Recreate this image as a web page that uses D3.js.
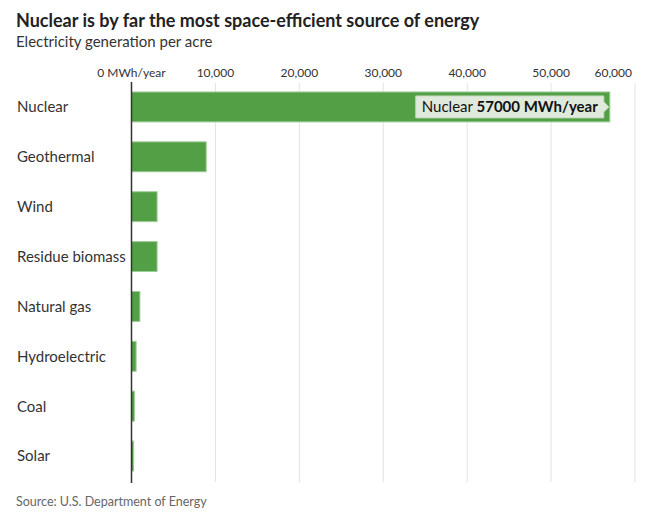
<!DOCTYPE html>
<html lang="en">
  <head>
    <meta charset="utf-8" />
    <title>Nuclear is by far the most space-efficient source of energy</title>
    <script src="https://d3js.org/d3.v7.js"></script>
    <style>
      body { margin: 0; background: #fff; }
      text { font-family: Lato, "Noto Sans", sans-serif; }
    </style>
  </head>
  <body>
    <div id="graph"></div>
    <script>

    // data
    var sources = ["Nuclear", "Geothermal", "Wind", "Residue biomass", "Natural gas", "Hydroelectric", "Coal", "Solar"];
    var mwhPerAcre = [57000, 8900, 3050, 3050, 1000, 550, 350, 250];
    var tickValues = [0, 10000, 20000, 30000, 40000, 50000, 60000];
    var tickLabels = ["0 MWh/year", "10,000", "20,000", "30,000", "40,000", "50,000", "60,000"];

    var data = sources.map((s, i) => ({source: s, value: mwhPerAcre[i]}));

    var w = 651, h = 517;
    var svg = d3.select("#graph")
      .append("svg")
        .attr("width", w)
        .attr("height", h);

    var x = d3.scaleLinear()
      .domain([0, 60000])
      .range([131.5, 635]);

    var y = d3.scaleBand()
      .domain(sources)
      .range([82, 481])
      .paddingInner(0.4)
      .paddingOuter(0.2);

    // title block
    svg.append("text")
      .attr("x", 16).attr("y", 27)
      .attr("font-size", 18)
      .attr("font-weight", "bold")
      .attr("fill", "#222")
      .text("Nuclear is by far the most space-efficient source of energy");

    svg.append("text")
      .attr("x", 16).attr("y", 47)
      .attr("font-size", 15)
      .attr("fill", "#333")
      .text("Electricity generation per acre");

    // gridlines
    svg.append("g")
      .selectAll("line")
      .data(tickValues.slice(1))
      .join("line")
        .attr("x1", d => x(d)).attr("x2", d => x(d))
        .attr("y1", 83).attr("y2", 482)
        .attr("stroke", "#e3e3e3")
        .attr("stroke-width", 1);

    // top axis labels
    svg.append("g")
      .selectAll("text")
      .data(tickValues)
      .join("text")
        .attr("x", (d, i) => i === tickValues.length - 1 ? x(d) - 3 : x(d))
        .attr("y", 77)
        .attr("text-anchor", (d, i) => i === tickValues.length - 1 ? "end" : "middle")
        .attr("font-size", 12)
        .attr("fill", "#333")
        .text((d, i) => tickLabels[i]);

    // bars
    svg.append("g")
      .selectAll("rect")
      .data(data)
      .join("rect")
        .attr("x", x(0))
        .attr("y", d => y(d.source))
        .attr("width", d => x(d.value) - x(0))
        .attr("height", y.bandwidth())
        .attr("fill", "#529f46")
        .attr("stroke", "#9fcd97")
        .attr("stroke-width", 1);

    // category labels
    svg.append("g")
      .selectAll("text")
      .data(data)
      .join("text")
        .attr("x", 17)
        .attr("y", d => y(d.source) + y.bandwidth() / 2)
        .attr("dy", "0.36em")
        .attr("font-size", 15)
        .attr("fill", "#333")
        .text(d => d.source);

    // zero axis
    svg.append("line")
      .attr("x1", x(0)).attr("x2", x(0))
      .attr("y1", 82).attr("y2", 483)
      .attr("stroke", "#333")
      .attr("stroke-width", 1.5);

    // tooltip on the nuclear bar
    var biggest = data[0];
    var tipRight = x(biggest.value) - 6;
    var tipTop = y(biggest.source) + 4;
    var tipH = y.bandwidth() - 8;
    var tip = svg.append("g");

    var tipText = tip.append("text")
      .attr("y", tipTop + tipH / 2)
      .attr("dy", "0.36em")
      .attr("font-size", 15)
      .attr("fill", "#111");
    tipText.append("tspan").text(biggest.source + " ");
    tipText.append("tspan").attr("font-weight", "bold").text(biggest.value + " MWh/year");

    var tw = tipText.node().getComputedTextLength();
    var tipLeft = tipRight - tw - 12;
    tipText.attr("x", tipLeft + 6);

    tip.insert("path", "text")
      .attr("d", `M${tipLeft},${tipTop} H${tipRight} V${tipTop + tipH / 2 - 5} L${tipRight + 5},${tipTop + tipH / 2} L${tipRight},${tipTop + tipH / 2 + 5} V${tipTop + tipH} H${tipLeft} Z`)
      .attr("fill", "#dfe9dc")
      .attr("stroke", "#c5d9c0")
      .attr("stroke-width", 1);

    // source note
    svg.append("text")
      .attr("x", 16).attr("y", 506)
      .attr("font-size", 12.5)
      .attr("fill", "#666")
      .text("Source: U.S. Department of Energy");

    </script>
  </body>
</html>
